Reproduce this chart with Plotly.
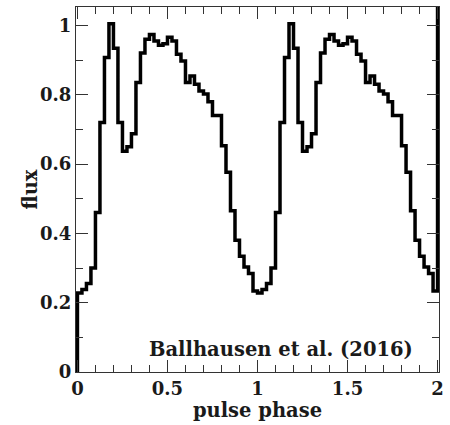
import numpy as np
import plotly.graph_objects as go

# Pulse profile: 40 phase bins per cycle, shown twice (phase 0-2)
bin_width = 0.025
profile = [
    0.228, 0.238, 0.255, 0.300, 0.460, 0.720, 0.907, 1.005, 0.934, 0.720,
    0.637, 0.650, 0.687, 0.835, 0.920, 0.960, 0.974, 0.955, 0.943, 0.947,
    0.966, 0.955, 0.917, 0.897, 0.835, 0.854, 0.830, 0.811, 0.802, 0.780,
    0.740, 0.740, 0.653, 0.576, 0.465, 0.380, 0.334, 0.303, 0.284, 0.234,
]
n_cycles = 2
start_level = 0.0   # histogram opens from zero at phase 0
end_level = 1.2     # closing edge at phase 2 runs off the top

flux = np.tile(profile, n_cycles)
edges = np.arange(len(flux) + 1) * bin_width

x_steps = np.concatenate([[edges[0]], edges, [edges[-1]]])
y_steps = np.concatenate([[start_level], flux, [flux[-1], end_level]])

font_family = "DejaVu Serif"
text_color = "#1a1a1a"
pad = 0.008  # small margin so the outer histogram edges are not clipped

fig = go.Figure()
fig.add_trace(go.Scatter(
    x=x_steps, y=y_steps, mode="lines",
    line=dict(shape="hv", color="black", width=3.5),
    showlegend=False,
))

fig.add_annotation(
    x=1.872, y=0.065, xref="x", yref="y",
    text="<b>Ballhausen et al. (2016)</b>",
    showarrow=False, xanchor="right", yanchor="middle",
    font=dict(family=font_family, size=19.5, color=text_color),
)

# y-axis title placed as a rotated annotation beside the tick labels
fig.add_annotation(
    x=0, y=0.5, xref="paper", yref="paper",
    text="<b>flux</b>", textangle=-90, showarrow=False,
    xanchor="center", yanchor="middle", xshift=-46,
    font=dict(family=font_family, size=19.5, color=text_color),
)

axis_common = dict(
    showline=True, linecolor="#333", linewidth=1, mirror="ticks",
    ticks="inside", tickcolor="#333", tickwidth=1, ticklen=12,
    showgrid=False, zeroline=False,
    tickfont=dict(family=font_family, size=18, color=text_color, weight="bold"),
)

fig.update_xaxes(
    range=[-pad, 2 + pad], dtick=0.5, tick0=0,
    minor=dict(dtick=0.1, ticks="inside", ticklen=7, tickcolor="#333", showgrid=False),
    title=dict(text="<b>pulse phase</b>", font=dict(family=font_family, size=19.5, color=text_color), standoff=3),
    **axis_common,
)
fig.update_yaxes(
    range=[0, 1.053], dtick=0.2, tick0=0,
    minor=dict(dtick=0.1, ticks="inside", ticklen=7, tickcolor="#333", showgrid=False),
    **axis_common,
)

fig.update_layout(
    width=450, height=425,
    margin=dict(l=75.8, r=6.5, t=6, b=53),
    plot_bgcolor="white", paper_bgcolor="white",
)

fig.write_html("out.html")
